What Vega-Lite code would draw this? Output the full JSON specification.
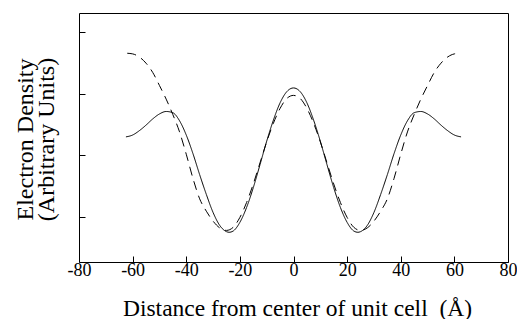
{
  "$schema": "https://vega.github.io/schema/vega-lite/v6.json",
  "width": 429,
  "height": 249,
  "autosize": "none",
  "padding": {"left": 79, "top": 13, "right": 9, "bottom": 57},
  "background": "white",
  "config": {
    "view": {"stroke": "black", "strokeWidth": 1},
    "font": "Liberation Serif, DejaVu Serif, serif"
  },
  "data": {
    "values": [
      {"x": -62.5, "y": 1.30, "s": "solid"},
      {"x": -60, "y": 1.33, "s": "solid"},
      {"x": -57.5, "y": 1.40, "s": "solid"},
      {"x": -55, "y": 1.49, "s": "solid"},
      {"x": -52.5, "y": 1.59, "s": "solid"},
      {"x": -50, "y": 1.67, "s": "solid"},
      {"x": -47.5, "y": 1.71, "s": "solid"},
      {"x": -45, "y": 1.69, "s": "solid"},
      {"x": -42.5, "y": 1.56, "s": "solid"},
      {"x": -40, "y": 1.33, "s": "solid"},
      {"x": -37.5, "y": 1.03, "s": "solid"},
      {"x": -35, "y": 0.69, "s": "solid"},
      {"x": -32.5, "y": 0.37, "s": "solid"},
      {"x": -30, "y": 0.08, "s": "solid"},
      {"x": -27.5, "y": -0.13, "s": "solid"},
      {"x": -25, "y": -0.23, "s": "solid"},
      {"x": -24, "y": -0.24, "s": "solid"},
      {"x": -22.5, "y": -0.22, "s": "solid"},
      {"x": -20, "y": -0.08, "s": "solid"},
      {"x": -17.5, "y": 0.16, "s": "solid"},
      {"x": -15, "y": 0.48, "s": "solid"},
      {"x": -12.5, "y": 0.85, "s": "solid"},
      {"x": -10, "y": 1.23, "s": "solid"},
      {"x": -7.5, "y": 1.57, "s": "solid"},
      {"x": -5, "y": 1.85, "s": "solid"},
      {"x": -2.5, "y": 2.03, "s": "solid"},
      {"x": 0, "y": 2.09, "s": "solid"},
      {"x": 2.5, "y": 2.03, "s": "solid"},
      {"x": 5, "y": 1.85, "s": "solid"},
      {"x": 7.5, "y": 1.57, "s": "solid"},
      {"x": 10, "y": 1.23, "s": "solid"},
      {"x": 12.5, "y": 0.85, "s": "solid"},
      {"x": 15, "y": 0.48, "s": "solid"},
      {"x": 17.5, "y": 0.16, "s": "solid"},
      {"x": 20, "y": -0.08, "s": "solid"},
      {"x": 22.5, "y": -0.22, "s": "solid"},
      {"x": 24, "y": -0.24, "s": "solid"},
      {"x": 25, "y": -0.23, "s": "solid"},
      {"x": 27.5, "y": -0.13, "s": "solid"},
      {"x": 30, "y": 0.08, "s": "solid"},
      {"x": 32.5, "y": 0.37, "s": "solid"},
      {"x": 35, "y": 0.69, "s": "solid"},
      {"x": 37.5, "y": 1.03, "s": "solid"},
      {"x": 40, "y": 1.33, "s": "solid"},
      {"x": 42.5, "y": 1.56, "s": "solid"},
      {"x": 45, "y": 1.69, "s": "solid"},
      {"x": 47.5, "y": 1.71, "s": "solid"},
      {"x": 50, "y": 1.67, "s": "solid"},
      {"x": 52.5, "y": 1.59, "s": "solid"},
      {"x": 55, "y": 1.49, "s": "solid"},
      {"x": 57.5, "y": 1.40, "s": "solid"},
      {"x": 60, "y": 1.33, "s": "solid"},
      {"x": 62.5, "y": 1.30, "s": "solid"},
      {"x": -62, "y": 2.65, "s": "dashed"},
      {"x": -60, "y": 2.64, "s": "dashed"},
      {"x": -57.5, "y": 2.59, "s": "dashed"},
      {"x": -55, "y": 2.49, "s": "dashed"},
      {"x": -52.5, "y": 2.34, "s": "dashed"},
      {"x": -50, "y": 2.13, "s": "dashed"},
      {"x": -47.5, "y": 1.91, "s": "dashed"},
      {"x": -45, "y": 1.66, "s": "dashed"},
      {"x": -42.5, "y": 1.38, "s": "dashed"},
      {"x": -40, "y": 1.02, "s": "dashed"},
      {"x": -37.5, "y": 0.63, "s": "dashed"},
      {"x": -35, "y": 0.30, "s": "dashed"},
      {"x": -32.5, "y": 0.10, "s": "dashed"},
      {"x": -30, "y": -0.06, "s": "dashed"},
      {"x": -27.5, "y": -0.17, "s": "dashed"},
      {"x": -25, "y": -0.21, "s": "dashed"},
      {"x": -22.5, "y": -0.16, "s": "dashed"},
      {"x": -20, "y": 0.00, "s": "dashed"},
      {"x": -17.5, "y": 0.24, "s": "dashed"},
      {"x": -15, "y": 0.54, "s": "dashed"},
      {"x": -12.5, "y": 0.88, "s": "dashed"},
      {"x": -10, "y": 1.22, "s": "dashed"},
      {"x": -7.5, "y": 1.52, "s": "dashed"},
      {"x": -5, "y": 1.76, "s": "dashed"},
      {"x": -2.5, "y": 1.92, "s": "dashed"},
      {"x": 0, "y": 1.97, "s": "dashed"},
      {"x": 2.5, "y": 1.92, "s": "dashed"},
      {"x": 5, "y": 1.76, "s": "dashed"},
      {"x": 7.5, "y": 1.52, "s": "dashed"},
      {"x": 10, "y": 1.22, "s": "dashed"},
      {"x": 12.5, "y": 0.88, "s": "dashed"},
      {"x": 15, "y": 0.54, "s": "dashed"},
      {"x": 17.5, "y": 0.24, "s": "dashed"},
      {"x": 20, "y": 0.00, "s": "dashed"},
      {"x": 22.5, "y": -0.16, "s": "dashed"},
      {"x": 25, "y": -0.21, "s": "dashed"},
      {"x": 27.5, "y": -0.17, "s": "dashed"},
      {"x": 30, "y": -0.06, "s": "dashed"},
      {"x": 32.5, "y": 0.10, "s": "dashed"},
      {"x": 35, "y": 0.30, "s": "dashed"},
      {"x": 37.5, "y": 0.63, "s": "dashed"},
      {"x": 40, "y": 1.02, "s": "dashed"},
      {"x": 42.5, "y": 1.38, "s": "dashed"},
      {"x": 45, "y": 1.66, "s": "dashed"},
      {"x": 47.5, "y": 1.91, "s": "dashed"},
      {"x": 50, "y": 2.13, "s": "dashed"},
      {"x": 52.5, "y": 2.34, "s": "dashed"},
      {"x": 55, "y": 2.49, "s": "dashed"},
      {"x": 57.5, "y": 2.59, "s": "dashed"},
      {"x": 60, "y": 2.64, "s": "dashed"},
      {"x": 62, "y": 2.65, "s": "dashed"}
    ]
  },
  "mark": {"type": "line", "color": "black", "strokeWidth": 1, "interpolate": "monotone"},
  "encoding": {
    "x": {
      "field": "x", "type": "quantitative",
      "scale": {"domain": [-80, 80], "nice": false, "zero": false},
      "axis": {
        "values": [-80, -60, -40, -20, 0, 20, 40, 60, 80],
        "grid": false, "domain": false,
        "tickSize": -6, "tickColor": "black",
        "labelExpr": "toString(datum.value)",
        "labelFont": "Liberation Serif, DejaVu Serif, serif", "labelFontSize": 18, "labelColor": "black",
        "labelBaseline": "alphabetic", "labelPadding": 19, "labelFlush": false,
        "title": "Distance from center of unit cell\u00a0\u00a0(Å)",
        "titleFont": "Liberation Serif, DejaVu Serif, serif", "titleFontSize": 23.5, "titleFontWeight": "normal",
        "titleColor": "black", "titleX": 218, "titleY": 53, "titleBaseline": "alphabetic"
      }
    },
    "y": {
      "field": "y", "type": "quantitative",
      "scale": {"domain": [-0.72, 3.3], "nice": false, "zero": false},
      "axis": {
        "values": [0, 1, 2, 3],
        "grid": false, "domain": false, "labels": false,
        "tickSize": -6, "tickColor": "black",
        "title": ["Electron Density", "(Arbitrary Units)"],
        "titleFont": "Liberation Serif, DejaVu Serif, serif", "titleFontSize": 24, "titleFontWeight": "normal",
        "titleColor": "black", "titleLineHeight": 21, "titleX": -42, "titleY": 126
      }
    },
    "strokeDash": {
      "field": "s", "type": "nominal",
      "scale": {"domain": ["solid", "dashed"], "range": [[1, 0], [9, 6]]},
      "legend": null
    }
  }
}
